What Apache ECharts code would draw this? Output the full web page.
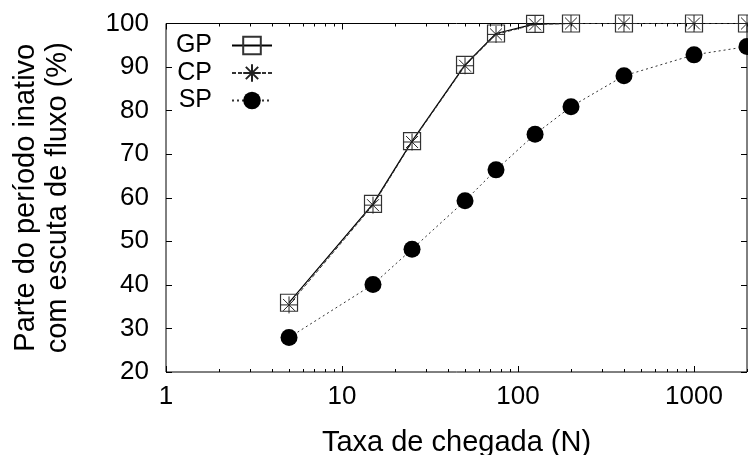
<!DOCTYPE html>
<html>
<head>
<meta charset="utf-8">
<script src="https://cdn.jsdelivr.net/npm/echarts@6/dist/echarts.min.js"></script>
<style>html,body{margin:0;padding:0;background:#fff;}#c{width:748px;height:455px;}</style>
</head>
<body>
<div id="c"></div>
<script>
const arrivalRates = [5, 15, 25, 50, 75, 125, 200, 400, 1000, 2000];
const gpValues = [35.9, 58.6, 73.0, 90.5, 97.7, 99.9, 100, 100, 100, 100];
const cpValues = [35.4, 58.3, 72.8, 90.3, 97.5, 99.8, 100, 100, 100, 100];
const spValues = [27.9, 40.1, 48.2, 59.3, 66.4, 74.6, 80.9, 88.0, 92.8, 94.7];
const xMajorTicks = [1, 10, 100, 1000];
const xMinorTicks = [2,3,4,5,6,7,8,9,20,30,40,50,60,70,80,90,200,300,400,500,600,700,800,900,2000];
const yTicks = [20, 30, 40, 50, 60, 70, 80, 90, 100];

const FONT = 'Liberation Sans, Arial, sans-serif';
const pair = (xs, ys) => xs.map((x, i) => [x, ys[i]]);

const chart = echarts.init(document.getElementById('c'), null, {renderer: 'canvas'});

const baseX = {type: 'log', logBase: 10, min: 1, max: 2000, gridIndex: 0, splitLine: {show: false}, axisLine: {show: false}};
const baseY = {type: 'value', min: 20, max: 100, interval: 10, splitLine: {show: false}, axisLine: {show: false}};

const option = {
  animation: false,
  backgroundColor: '#fff',
  grid: {left: 166, right: 1, top: 23.5, bottom: 83, containLabel: false, outerBoundsMode: 'none',
         show: true, borderColor: '#000', borderWidth: 1, backgroundColor: 'transparent'},
  xAxis: [
    Object.assign({}, baseX, {
      position: 'bottom',
      name: 'Taxa de chegada (N)', nameLocation: 'middle', nameGap: 56,
      nameTextStyle: {fontFamily: FONT, fontSize: 29, color: '#000'},
      axisTick: {show: true, inside: true, length: 6, lineStyle: {color: '#000'}, customValues: xMajorTicks},
      axisLabel: {show: true, margin: 12, fontFamily: FONT, fontSize: 26, color: '#000', customValues: xMajorTicks,
                  formatter: v => String(Math.round(v))}
    }),
    Object.assign({}, baseX, {
      position: 'bottom',
      axisTick: {show: true, inside: true, length: 3, lineStyle: {color: '#000'}, customValues: xMinorTicks},
      axisLabel: {show: false}
    }),
    Object.assign({}, baseX, {
      position: 'top',
      axisTick: {show: true, inside: true, length: 6, lineStyle: {color: '#000'}, customValues: xMajorTicks},
      axisLabel: {show: false}
    }),
    Object.assign({}, baseX, {
      position: 'top',
      axisTick: {show: true, inside: true, length: 3, lineStyle: {color: '#000'}, customValues: xMinorTicks},
      axisLabel: {show: false}
    })
  ],
  yAxis: [
    Object.assign({}, baseY, {
      position: 'left',
      name: 'Parte do período inativo\ncom escuta de fluxo (%)', nameLocation: 'middle', nameGap: 92, nameRotate: 90,
      nameTextStyle: {fontFamily: FONT, fontSize: 29, color: '#000', lineHeight: 32},
      axisTick: {show: true, inside: true, length: 6, lineStyle: {color: '#000'}, customValues: yTicks},
      axisLabel: {show: true, margin: 17, fontFamily: FONT, fontSize: 26, color: '#000', customValues: yTicks}
    }),
    Object.assign({}, baseY, {
      position: 'right',
      axisTick: {show: true, inside: true, length: 6, lineStyle: {color: '#000'}, customValues: yTicks},
      axisLabel: {show: false}
    })
  ],
  legend: {
    show: true, orient: 'vertical', left: 157, top: 28,
    align: 'right', itemWidth: 40, itemHeight: 22, itemGap: 2.5,
    textStyle: {fontFamily: FONT, fontSize: 25, color: '#000', width: 50, align: 'right', lineHeight: 25, padding: [0, 15, 0, 0]},
    data: ['GP', 'CP', 'SP']
  },
  series: [
    {
      name: 'GP', type: 'line', xAxisIndex: 0, yAxisIndex: 0,
      data: pair(arrivalRates, gpValues),
      symbol: 'path://M0,0L10,0L10,10L0,10Z', symbolSize: 17, showAllSymbol: true,
      itemStyle: {color: 'rgba(0,0,0,0)', borderColor: '#333', borderWidth: 1.2},
      lineStyle: {color: '#000', width: 1.2, type: 'solid'},
      clip: true
    },
    {
      name: 'CP', type: 'line', xAxisIndex: 0, yAxisIndex: 0,
      data: pair(arrivalRates, cpValues),
      symbol: 'path://M0,5L10,5M5,0L5,10M1.5,1.5L8.5,8.5M1.5,8.5L8.5,1.5', symbolSize: 17, showAllSymbol: true,
      itemStyle: {color: 'rgba(0,0,0,0)', borderColor: '#222', borderWidth: 1},
      lineStyle: {color: '#333', width: 1, type: [4, 2]},
      clip: true
    },
    {
      name: 'SP', type: 'line', xAxisIndex: 0, yAxisIndex: 0,
      data: pair(arrivalRates, spValues),
      symbol: 'circle', symbolSize: 17, showAllSymbol: true,
      itemStyle: {color: '#000'},
      lineStyle: {color: '#333', width: 1, type: [2, 3]},
      clip: true
    }
  ]
};
chart.setOption(option);
</script>
</body>
</html>
